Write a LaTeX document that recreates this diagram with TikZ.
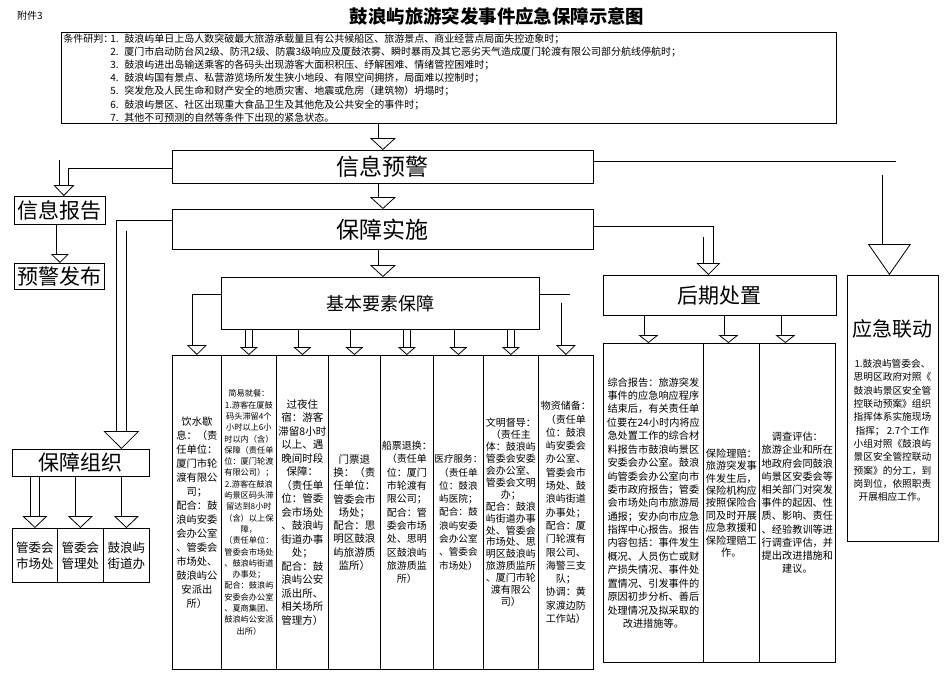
\documentclass[tikz,border=0pt]{standalone}
\usepackage{fontspec}
\setmainfont{Noto Sans CJK SC}
\usetikzlibrary{arrows.meta,calc,backgrounds}
\newcommand{\fs}[2]{\fontsize{#1}{#2}\selectfont}
\begin{document}
\begin{tikzpicture}[x=1pt,y=-1pt,
  box/.style={draw, line width=0.8pt, inner sep=0pt, anchor=north west},
  col/.style={draw, line width=0.8pt, inner sep=0pt, anchor=north west, align=center, minimum height=314pt},
  hcol/.style={draw, line width=0.8pt, inner sep=0pt, anchor=north west, align=center, minimum height=319pt},
  harrow/.style n args={3}{line width=0.8pt, double=white, double distance=#1,
    -{Triangle[open, width=#2, length=#3, line width=0.8pt]}},
  big/.style={font=\fs{21}{21}},
  huge/.style={font=\fs{23}{23}},
]
\useasboundingbox (0,0) rectangle (947,680);

% title
\node[font=\fs{10}{10}] (fj) at (30,16) {附件3};
\node[font=\bfseries\fs{18.4}{18.4}] (title) at (497,16) {鼓浪屿旅游突发事件应急保障示意图};

% conditions
\node[box, minimum width=775pt, minimum height=91pt, text width=771pt, inner xsep=2pt,
      align=left, font=\fs{10}{13.2}] (cond) at (61,32) {%
\makebox[47pt][l]{条件研判：}\makebox[14pt][l]{1.}鼓浪屿单日上岛人数突破最大旅游承载量且有公共候船区、旅游景点、商业经营点局面失控迹象时；\\
\hspace*{47pt}\makebox[14pt][l]{2.}厦门市启动防台风2级、防汛2级、防震3级响应及厦鼓浓雾、瞬时暴雨及其它恶劣天气造成厦门轮渡有限公司部分航线停航时；\\
\hspace*{47pt}\makebox[14pt][l]{3.}鼓浪屿进出岛输送乘客的各码头出现游客大面积积压、纾解困难、情绪管控困难时；\\
\hspace*{47pt}\makebox[14pt][l]{4.}鼓浪屿国有景点、私营游览场所发生狭小地段、有限空间拥挤，局面难以控制时；\\
\hspace*{47pt}\makebox[14pt][l]{5.}突发危及人民生命和财产安全的地质灾害、地震或危房（建筑物）坍塌时；\\
\hspace*{47pt}\makebox[14pt][l]{6.}鼓浪屿景区、社区出现重大食品卫生及其他危及公共安全的事件时；\\
\hspace*{47pt}\makebox[14pt][l]{7.}其他不可预测的自然等条件下出现的紧急状态。};

% main boxes
\node[box, huge, minimum width=421pt, minimum height=33pt] (xxyj) at (172,150) {信息预警};
\node[box, huge, minimum width=421pt, minimum height=40pt] (bzss) at (172,209) {保障实施};
\node[box, big, minimum width=91pt, minimum height=28pt] (xxbg) at (14,196) {信息报告};
\node[box, big, minimum width=90pt, minimum height=26pt] (yjfb) at (14,263) {预警发布};
\node[box, font=\fs{18}{18}, minimum width=318pt, minimum height=52pt] (jbys) at (221,277) {基本要素保障};
\node[box, big, minimum width=233pt, minimum height=40pt] (hqcz) at (603,275) {后期处置};
\node[box, minimum width=91pt, minimum height=266pt] (yjld) at (847,275) {};
\node[font=\fs{20}{20}] (yjldt) at (892.5,329) {应急联动};
\node[align=center, font=\fs{9.7}{13.3}] (yjldp) at (892.5,430.5) {1.鼓浪屿管委会、\\思明区政府对照《\\鼓浪屿景区安全管\\控联动预案》组织\\指挥体系实施现场\\指挥； 2.7个工作\\小组对照《鼓浪屿\\景区安全管控联动\\预案》的分工，到\\岗到位，依照职责\\开展相应工作。};

\node[box, big, minimum width=137pt, minimum height=27pt] (bzzz) at (12,449) {保障组织};
\node[box, align=center, font=\fs{12.5}{16}, minimum width=45pt, minimum height=54pt] (z1) at (12,528) {管委会\\市场处};
\node[box, align=center, font=\fs{12.5}{16}, minimum width=46pt, minimum height=54pt] (z2) at (57,528) {管委会\\管理处};
\node[box, align=center, font=\fs{12.5}{16}, minimum width=46pt, minimum height=54pt] (z3) at (103,528) {鼓浪屿\\街道办};

% basic element columns
\node[col, minimum width=49pt, font=\fs{10.3}{14}] (c1) at (172,355) {饮水歇\\息：（责\\任单位：\\厦门市轮\\渡有限公\\司；\\配合：鼓\\浪屿安委\\会办公室\\、管委会\\市场处、\\鼓浪屿公\\安派出\\所）};
\node[col, minimum width=55pt, font=\fs{8.2}{11.3}] (c2) at (221,355) {简易就餐：\\1.游客在厦鼓\\码头滞留4个\\小时以上6小\\时以内（含）\\保障（责任单\\位：厦门轮渡\\有限公司）；\\2.游客在鼓浪\\屿景区码头滞\\留达到8小时\\（含）以上保\\障，\\（责任单位：\\管委会市场处\\、鼓浪屿街道\\办事处；\\配合：鼓浪屿\\安委会办公室\\、夏商集团、\\鼓浪屿公安派\\出所）};
\node[col, minimum width=52pt, font=\fs{10.5}{13.5}] (c3) at (276,355) {过夜住\\宿：游客\\滞留8小时\\以上、遇\\晚间时段\\保障：\\（责任单\\位：管委\\会市场处\\、鼓浪屿\\街道办事\\处；\\配合：鼓\\浪屿公安\\派出所、\\相关场所\\管理方）};
\node[col, minimum width=52pt, font=\fs{10.5}{13.3}] (c4) at (328,355) {门票退\\换：（责\\任单位：\\管委会市\\场处；\\配合：思\\明区鼓浪\\屿旅游质\\监所）};
\node[col, minimum width=53pt, font=\fs{10}{13.3}] (c5) at (380,355) {船票退换：\\（责任单\\位：厦门\\市轮渡有\\限公司；\\配合：管\\委会市场\\处、思明\\区鼓浪屿\\旅游质监\\所）};
\node[col, minimum width=50pt, font=\fs{9.6}{13.3}] (c6) at (433,355) {医疗服务：\\（责任单\\位：鼓浪\\屿医院；\\配合：鼓\\浪屿安委\\会办公室\\、管委会\\市场处）};
\node[col, minimum width=55pt, font=\fs{10}{11.9}] (c7) at (483,355) {文明督导：\\（责任主\\体：鼓浪屿\\管委会安委\\会办公室、\\管委会文明\\办；\\配合：鼓浪\\屿街道办事\\处、管委会\\市场处、思\\明区鼓浪屿\\旅游质监所\\、厦门市轮\\渡有限公\\司）};
\node[col, minimum width=55pt, font=\fs{10}{13.3}] (c8) at (538,355) {物资储备：\\（责任单\\位：鼓浪\\屿安委会\\办公室、\\管委会市\\场处、鼓\\浪屿街道\\办事处；\\配合：厦\\门轮渡有\\限公司、\\海警三支\\队；\\协调：黄\\家渡边防\\工作站）};

% follow-up columns
\node[hcol, minimum width=100pt, font=\fs{10.2}{13.4}] (h1) at (603,343) {综合报告：旅游突发\\事件的应急响应程序\\结束后，有关责任单\\位要在24小时内将应\\急处置工作的综合材\\料报告市鼓浪屿景区\\安委会办公室。鼓浪\\屿管委会办公室向市\\委市政府报告；管委\\会市场处向市旅游局\\通报；安办向市应急\\指挥中心报告。报告\\内容包括：事件发生\\概况、人员伤亡或财\\产损失情况、事件处\\置情况、引发事件的\\原因初步分析、善后\\处理情况及拟采取的\\改进措施等。};
\node[hcol, minimum width=56pt, font=\fs{10.2}{12.4}] (h2) at (703,343) {保险理赔：\\旅游突发事\\件发生后，\\保险机构应\\按照保险合\\同及时开展\\应急救援和\\保险理赔工\\作。};
\node[hcol, minimum width=76pt, font=\fs{10.2}{13.2}] (h3) at (759,343) {调查评估：\\旅游企业和所在\\地政府会同鼓浪\\屿景区安委会等\\相关部门对突发\\事件的起因、性\\质、影响、责任\\、经验教训等进\\行调查评估，并\\提出改进措施和\\建议。};

% arrows
\begin{scope}[on background layer]
\fill[white] (0,0) rectangle (947,680);
\draw[harrow={7.4pt}{26pt}{12pt}] (xxyj.north |- cond.south) -- (xxyj.north);
\draw[harrow={7.4pt}{26pt}{12pt}] (xxyj.south) -- (bzss.north);
\draw[harrow={7.4pt}{26pt}{12pt}] (bzss.south) -- (bzss.south |- jbys.north);
\draw[harrow={8pt}{21pt}{11pt}] ([yshift=2.5pt]xxyj.west) -| ([xshift=4pt]xxbg.north);
\draw[harrow={5.4pt}{18pt}{9pt}] (xxbg.south) -- (xxbg.south |- yjfb.north);
\draw[harrow={12.4pt}{43pt}{31pt}] ([yshift=-1.5pt]xxyj.east) -| ([xshift=-3.5pt]yjld.north);
\draw[harrow={9.4pt}{24pt}{12pt}] ([yshift=-2.5pt]bzss.east) -| ([xshift=-11.5pt]hqcz.north);
\draw[harrow={9.4pt}{36pt}{18pt}] ([yshift=3.5pt]bzss.west) -| ([xshift=40.5pt]bzzz.north);
\draw[harrow={7.4pt}{20pt}{10pt}] ([yshift=4.5pt]jbys.west) -| (c1.north);
\draw[harrow={7.4pt}{20pt}{10pt}] ([yshift=4.5pt]jbys.east) -| (c8.north);
\foreach \i in {2,...,7}
  \draw[harrow={6.4pt}{18pt}{8pt}] (c\i.north |- jbys.south) -- (c\i.north);
\draw[harrow={6.4pt}{20pt}{8pt}] ([xshift=-5pt]h1.north |- hqcz.south) -- ([xshift=-5pt]h1.north);
\draw[harrow={6.4pt}{20pt}{8pt}] ([xshift=-3pt]h2.north |- hqcz.south) -- ([xshift=-3pt]h2.north);
\draw[harrow={6.4pt}{20pt}{8pt}] ([xshift=-12pt]h3.north |- hqcz.south) -- ([xshift=-12pt]h3.north);
\foreach \i in {1,2,3}
  \draw[harrow={8.4pt}{25pt}{12pt}] (z\i.north |- bzzz.south) -- (z\i.north);
\end{scope}
\end{tikzpicture}
\end{document}
